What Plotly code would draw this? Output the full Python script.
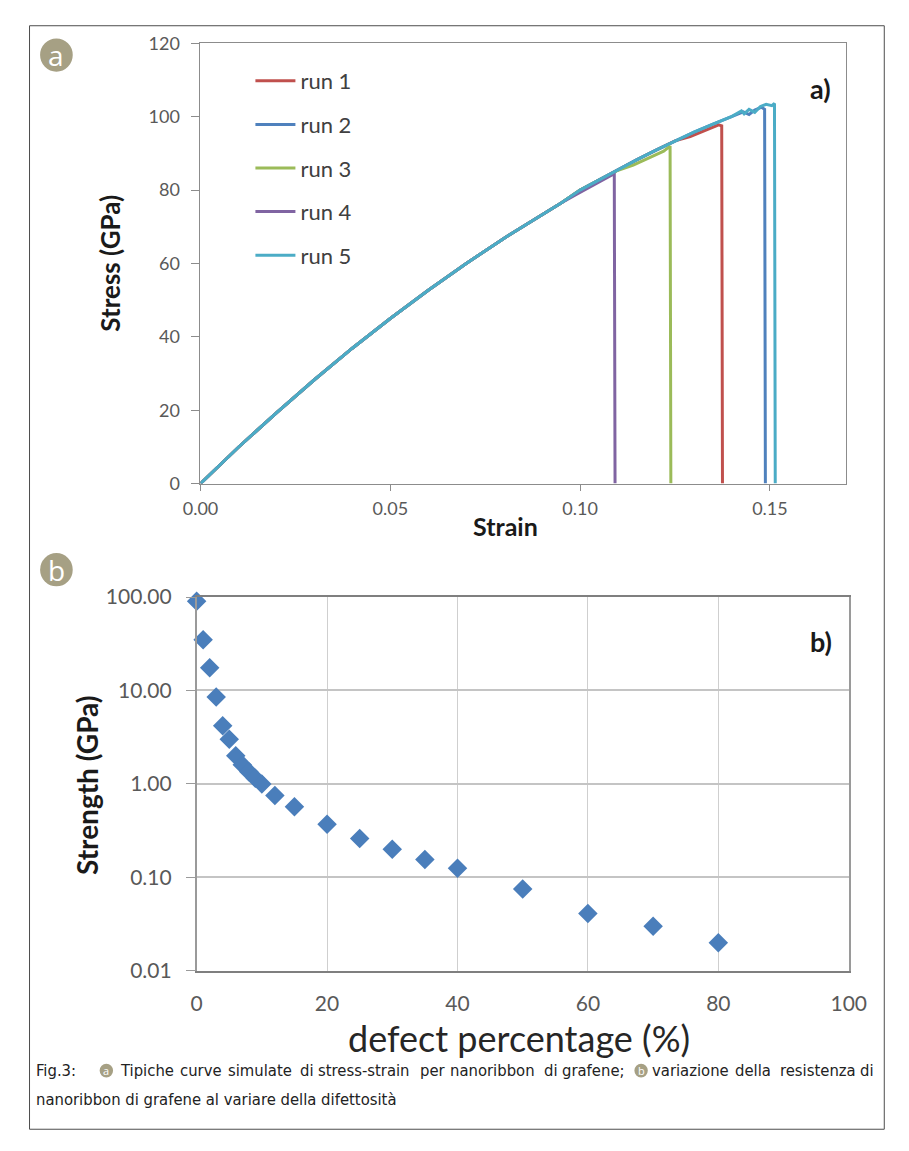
import plotly.graph_objects as go

W, H = 909, 1151
def px(x): return x / W
def py(y): return 1 - y / H

# ---------------- data: panel a) stress-strain ----------------
base_strain = [0.0, 0.005, 0.01, 0.02, 0.03, 0.04, 0.05, 0.06, 0.07, 0.08, 0.09, 0.095]
base_stress = [0.0, 5.0, 9.9, 19.3, 28.3, 36.9, 45.0, 52.7, 60.0, 66.9, 73.4, 76.5]

run1_strain = [0.10, 0.105, 0.11, 0.115, 0.12, 0.125, 0.129, 0.133, 0.1365, 0.1373, 0.1375]
run1_stress = [80.0, 82.8, 85.6, 88.3, 90.9, 93.4, 94.6, 96.2, 97.8, 97.5, 0.0]

run2_strain = [0.10, 0.105, 0.11, 0.115, 0.12, 0.125, 0.13, 0.135, 0.14, 0.143, 0.1445, 0.146, 0.1478, 0.1486, 0.1488]
run2_stress = [80.0, 82.8, 85.6, 88.3, 90.9, 93.4, 95.8, 98.0, 100.1, 101.3, 100.6, 101.8, 102.6, 102.0, 0.0]

run3_strain = [0.10, 0.105, 0.11, 0.114, 0.118, 0.122, 0.1237, 0.1239]
run3_stress = [80.0, 82.8, 85.4, 86.8, 88.6, 90.6, 92.0, 0.0]

run4_strain = [0.099, 0.103, 0.107, 0.109, 0.1092]
run4_stress = [78.8, 81.0, 83.2, 84.5, 0.0]

run5_strain = [0.10, 0.105, 0.11, 0.115, 0.12, 0.125, 0.13, 0.135, 0.14, 0.1425, 0.1432, 0.1445, 0.146, 0.1475, 0.149, 0.1505, 0.1512, 0.1514]
run5_stress = [80.0, 82.8, 85.6, 88.3, 90.9, 93.4, 95.8, 98.0, 100.1, 101.6, 100.8, 102.0, 101.2, 102.8, 103.4, 103.0, 103.6, 0.0]

run_names = ["run 1", "run 2", "run 3", "run 4", "run 5"]
run_colors = ["#C0504D", "#4F81BD", "#9BBB59", "#8064A2", "#4BACC6"]
run_tails = [(run1_strain, run1_stress), (run2_strain, run2_stress), (run3_strain, run3_stress),
             (run4_strain, run4_stress), (run5_strain, run5_stress)]

a_xticks = [0.0, 0.05, 0.10, 0.15]
a_xticktext = ["0.00", "0.05", "0.10", "0.15"]
a_yticks = [0, 20, 40, 60, 80, 100, 120]

# ---------------- data: panel b) strength vs defects ----------------
defect_pct = [0, 1, 2, 3, 4, 5, 6, 7, 8, 9, 10, 12, 15, 20, 25, 30, 35, 40, 50, 60, 70, 80]
strength_gpa = [90, 35, 17.5, 8.5, 4.2, 3.0, 2.0, 1.6, 1.35, 1.15, 1.0, 0.75, 0.57, 0.37, 0.26, 0.20,
                0.155, 0.125, 0.075, 0.041, 0.030, 0.020]
b_xticks = [0, 20, 40, 60, 80, 100]
b_yticks = [0.01, 0.1, 1, 10, 100]
b_yticktext = ["0.01", "0.10", "1.00", "10.00", "100.00"]

# ---------------- caption text ----------------
caption_head = "Fig.3:"
caption_part_a = ["Tipiche", "curve", "simulate", "di", "stress-strain", "per", "nanoribbon", "di", "grafene;"]
caption_part_b = ["variazione", "della", "resistenza", "di"]
caption_line2 = "nanoribbon di grafene al variare della difettosità"

FONT = "Lato, Open Sans, sans-serif"
CAP_FONT = "DejaVu Sans Condensed, Liberation Sans Narrow, sans-serif"

fig = go.Figure()
for name, col, (ts, tv) in zip(run_names, run_colors, run_tails):
    fig.add_trace(go.Scatter(
        x=base_strain + ts, y=base_stress + tv, mode="lines", name=name,
        line=dict(color=col, width=3), legendgroup=name,
        xaxis="x", yaxis="y"))

fig.add_trace(go.Scatter(
    x=defect_pct, y=strength_gpa, mode="markers", showlegend=False, cliponaxis=False,
    marker=dict(symbol="diamond", size=15, color="#4A7EBB", line=dict(width=0)),
    xaxis="x2", yaxis="y2"))

axis_common = dict(showline=True, linecolor="#8c8c8c", linewidth=1, mirror=True,
                   zeroline=False, ticks="outside", tickcolor="#8c8c8c")

fig.update_layout(
    width=W, height=H, margin=dict(l=0, r=0, t=0, b=0),
    paper_bgcolor="white", plot_bgcolor="white",
    font=dict(family=FONT, color="#595959"),
    xaxis=dict(domain=[px(190), px(862)], range=[0, 0.17], tickvals=a_xticks, ticktext=a_xticktext,
               showgrid=False, ticklen=6, ticklabelstandoff=3,
               tickfont=dict(size=18, color="#595959"), anchor="y", **axis_common),
    yaxis=dict(domain=[py(480), py(30)], range=[0, 120], tickvals=a_yticks,
               showgrid=False, ticklen=8, ticklabelstandoff=8,
               tickfont=dict(size=18, color="#595959"), anchor="x", **axis_common),
    xaxis2=dict(domain=[px(186), px(865)], range=[0, 100], tickvals=b_xticks,
                showgrid=True, gridcolor="#cfcfcf", gridwidth=1, ticks="", ticklen=0,
                ticklabelstandoff=13,
                showline=True, linecolor="#7f7f7f", linewidth=2, mirror=True, zeroline=False,
                tickfont=dict(size=21, color="#595959"), anchor="y2"),
    yaxis2=dict(domain=[py(978), py(596)], type="log", range=[-2, 2], tickvals=b_yticks,
                ticktext=b_yticktext, showgrid=True, gridcolor="#c4c4c4", gridwidth=2,
                showline=True, linecolor="#9a9a9a", linewidth=1.5, mirror=True, zeroline=False,
                ticks="outside", ticklen=9, tickcolor="#9a9a9a", ticklabelstandoff=10,
                tickfont=dict(size=21, color="#595959"), anchor="x2"),
    legend=dict(x=px(242), y=py(47), xanchor="left", yanchor="top", bgcolor="rgba(0,0,0,0)",
                font=dict(family=FONT, size=22, color="#404040"), itemwidth=40,
                tracegroupgap=12, traceorder="grouped"),
    showlegend=True,
)

ann = []
def add_text(x, y, text, size, color="#1a1a1a", bold=False, angle=0, xanchor="center",
             family=FONT):
    ann.append(dict(x=px(x), y=py(y), xref="paper", yref="paper", text=(f"<b>{text}</b>" if bold else text),
                    showarrow=False, textangle=angle, xanchor=xanchor, yanchor="middle",
                    borderpad=0, font=dict(family=family, size=size, color=color)))

add_text(96, 255, "Stress (GPa)", 26, bold=True, angle=-90)
add_text(508, 523, "Strain", 25, bold=True)
add_text(836, 76, "a)", 27, bold=True)
add_text(836, 641, "b)", 27, bold=True)
add_text(72, 788, "Strength (GPa)", 28, bold=True, angle=-90)
add_text(522, 1047, "defect percentage (%)", 36, color="#262626")

shapes = []
BADGE = "#A6A084"
def badge(cx, cy, r, letter, size):
    shapes.append(dict(type="circle", xref="paper", yref="paper",
                       x0=px(cx - r), x1=px(cx + r), y0=py(cy + r), y1=py(cy - r),
                       fillcolor=BADGE, line=dict(width=0)))
    ann.append(dict(x=px(cx), y=py(cy), xref="paper", yref="paper", text=letter, showarrow=False,
                    xanchor="center", yanchor="middle",
                    font=dict(family="Open Sans, sans-serif", size=size, color="white")))

badge(40, 42, 17, "a", 28)
badge(40, 568, 17, "b", 28)

# ---- caption: justified first line (word by word), second line left aligned ----
cap_col = "#222222"
CS = 16.5
_DV = {' ': 651, '-': 739, '.': 651, ':': 690, ';': 690, '3': 1303, 'F': 1178, 'T': 1251, 'a': 1255,
       'b': 1300, 'c': 1126, 'd': 1300, 'e': 1260, 'f': 721, 'g': 1300, 'h': 1298, 'i': 569, 'l': 569,
       'm': 1995, 'n': 1298, 'o': 1253, 'p': 1300, 'r': 842, 's': 1067, 't': 803, 'u': 1298, 'v': 1212,
       'z': 1075, 'à': 1255}
def tw(s):
    return sum(_DV.get(c, 1200) for c in s) / 2048 * 1.0 * CS

CAP_Y1, CAP_Y2 = 1080, 1110
BR = 7
add_text(18, CAP_Y1, caption_head, CS, color=cap_col, xanchor="left", family=CAP_FONT)
badge(92, CAP_Y1, BR, "a", 11)
x_start, x_end = 105, 892
wa = [tw(w) for w in caption_part_a]
wb = [tw(w) for w in caption_part_b]
n_gaps = (len(wa) - 1) + (len(wb) - 1) + 2
gap = (x_end - x_start - sum(wa) - sum(wb) - 2 * BR) / n_gaps
xc = x_start
for w, wd in zip(caption_part_a, wa):
    add_text(xc, CAP_Y1, w, CS, color=cap_col, xanchor="left", family=CAP_FONT)
    xc += wd + gap
xr = x_end
for w, wd in zip(reversed(caption_part_b), reversed(wb)):
    add_text(xr, CAP_Y1, w, CS, color=cap_col, xanchor="right", family=CAP_FONT)
    xr -= wd + gap
end_a = xc - gap + 7      # small allowance for rendering width of the last word
start_b = xr + gap
badge((end_a + start_b) / 2, CAP_Y1, BR, "b", 11)
add_text(18, CAP_Y2, caption_line2, CS, color=cap_col, xanchor="left", family=CAP_FONT)

# outer frame
shapes.append(dict(type="rect", xref="paper", yref="paper", x0=px(12), x1=px(902), y0=py(1140), y1=py(12),
                   line=dict(color="#4d4d4d", width=1), fillcolor="rgba(0,0,0,0)", layer="below"))

fig.update_layout(annotations=ann, shapes=shapes)
fig.write_html("out.html")
